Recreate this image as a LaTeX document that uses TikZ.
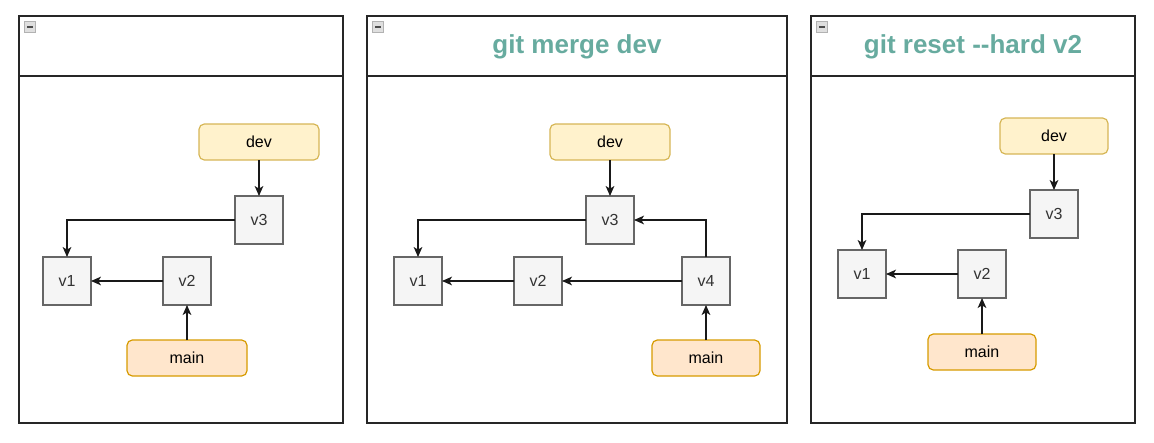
\documentclass[tikz,border=0pt]{standalone}
\usepackage{fontspec}
\setmainfont{Liberation Sans}
\usepackage{xcolor}
\usepackage{tikz}
\usetikzlibrary{arrows.meta, positioning}
\definecolor{devfill}{HTML}{FFF2CC}
\definecolor{devline}{HTML}{D6B656}
\definecolor{mainfill}{HTML}{FFE6CC}
\definecolor{mainline}{HTML}{D79B00}
\definecolor{cfill}{HTML}{F5F5F5}
\definecolor{cline}{HTML}{666666}
\definecolor{ctext}{HTML}{333333}
\definecolor{titlecol}{HTML}{67AB9F}
\tikzset{
  commit/.style = {draw=cline, fill=cfill, text=ctext, line width=1pt, outer sep=0pt,
                   minimum size=36pt, inner sep=0pt, font=\fontsize{12}{14}\selectfont},
  branch/.style = {draw=devline, fill=devfill, rounded corners=4pt, line width=0.9pt,
                   minimum width=90pt, minimum height=27pt, inner sep=0pt, outer sep=0pt,
                   font=\fontsize{12}{14}\selectfont},
  headb/.style  = {branch, draw=mainline, fill=mainfill},
  ttl/.style    = {text=titlecol, font=\fontsize{19.5}{22}\selectfont\bfseries},
  frame/.style  = {draw=black!85, line width=1.1pt},
  fold/.style   = {draw=gray!60, fill=gray!25, line width=0.4pt, minimum size=8pt,
                   inner sep=0pt, path picture={\draw[black!70, line width=1.1pt]
                   ([xshift=1.8pt]path picture bounding box.west) --
                   ([xshift=-1.8pt]path picture bounding box.east);}},
  fl/.style     = {-{Stealth[length=7.5pt, width=6.5pt, inset=2pt]}, line width=0.9pt, draw=black!90},
}

\begin{document}
\begin{tikzpicture}[x=0.75pt, y=-0.75pt]
  \useasboundingbox (0,0) rectangle (1154,443);

  % the three swimlane frames
  \draw[frame] (19,16) rectangle (343,423); \draw[frame] (19,76) -- (343,76);
  \draw[frame] (367,16) rectangle (787,423); \draw[frame] (367,76) -- (787,76);
  \draw[frame] (811,16) rectangle (1135,423); \draw[frame] (811,76) -- (1135,76);
  \node[fold] (fa) at (30,27) {};
  \node[fold] (fb) at (378,27) {};
  \node[fold] (fc) at (822,27) {};
  \node[ttl] (tb) at (577,47) {git merge dev};
  \node[ttl] (tc) at (973,47) {git reset -{}-hard v2};

  % before
  \node[commit] (v1a) at (67,281) {v1};
  \node[commit, right=54pt of v1a] (v2a) {v2};
  \node[commit, above right=9.75pt and 18pt of v2a] (v3a) {v3};
  \node[branch, above=27pt of v3a] (deva) {dev};
  \node[headb, below=26.25pt of v2a] (maina) {main};
  \draw[fl] (deva) -- (v3a);
  \draw[fl] (v3a.west) -| (v1a.north);
  \draw[fl] (v2a) -- (v1a);
  \draw[fl] (maina) -- (v2a);

  % git merge dev
  \node[commit] (v1b) at (418,281) {v1};
  \node[commit, right=54pt of v1b] (v2b) {v2};
  \node[commit, right=90pt of v2b] (v4b) {v4};
  \node[commit, above right=9.75pt and 18pt of v2b] (v3b) {v3};
  \node[branch, above=27pt of v3b] (devb) {dev};
  \node[headb, minimum width=81pt, below=26.25pt of v4b] (mainb) {main};
  \draw[fl] (devb) -- (v3b);
  \draw[fl] (v3b.west) -| (v1b.north);
  \draw[fl] (v2b) -- (v1b);
  \draw[fl] (v4b) -- (v2b);
  \draw[fl] (v4b.north) |- (v3b.east);
  \draw[fl] (mainb) -- (v4b);

  % git reset --hard v2
  \node[commit] (v1c) at (862,274) {v1};
  \node[commit, right=54pt of v1c] (v2c) {v2};
  \node[commit, above right=9pt and 18pt of v2c] (v3c) {v3};
  \node[branch, minimum width=81pt, above=27pt of v3c] (devc) {dev};
  \node[headb, minimum width=81pt, below=27pt of v2c] (mainc) {main};
  \draw[fl] (devc) -- (v3c);
  \draw[fl] (v3c.west) -| (v1c.north);
  \draw[fl] (v2c) -- (v1c);
  \draw[fl] (mainc) -- (v2c);
\end{tikzpicture}
\end{document}
